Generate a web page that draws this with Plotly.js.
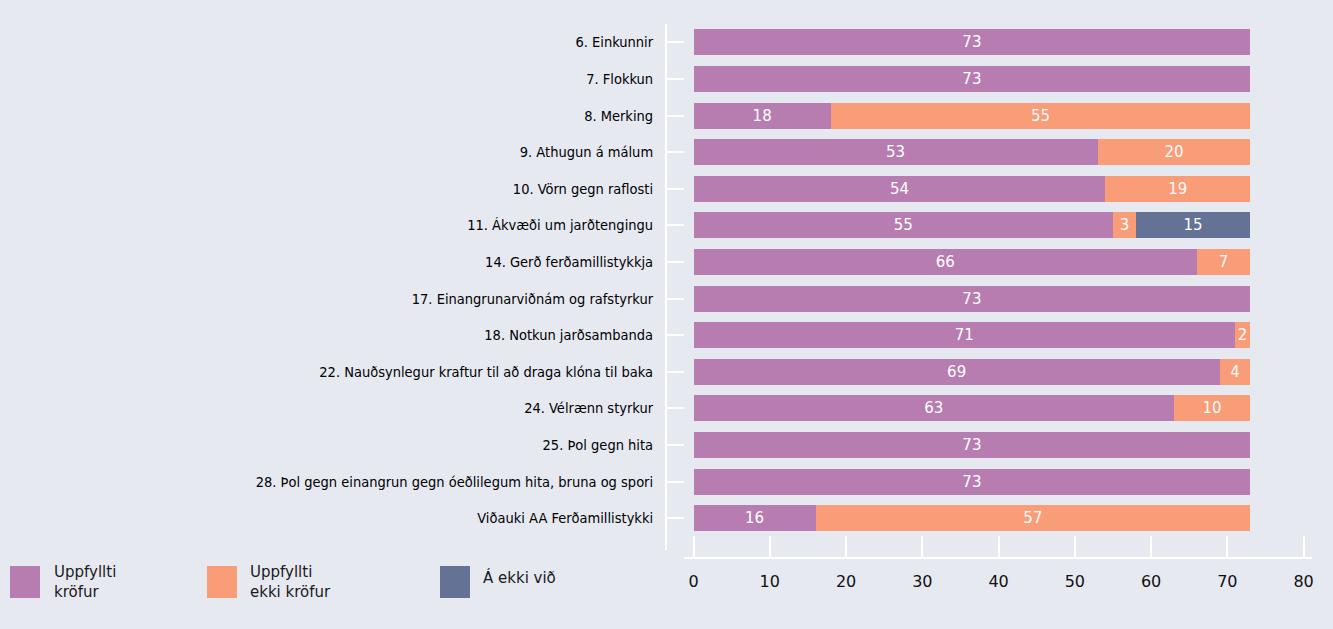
<!DOCTYPE html>
<html>
<head>
<meta charset="utf-8">
<script src="https://cdn.plot.ly/plotly-3.0.1.min.js"></script>
<style>html,body{margin:0;padding:0;background:#e6e9f0;}</style>
</head>
<body>
<div id="chart" style="width:1333px;height:629px;"></div>
<script>
const categories = [
  "6. Einkunnir",
  "7. Flokkun",
  "8. Merking",
  "9. Athugun á málum",
  "10. Vörn gegn raflosti",
  "11. Ákvæði um jarðtengingu",
  "14. Gerð ferðamillistykkja",
  "17. Einangrunarviðnám og rafstyrkur",
  "18. Notkun jarðsambanda",
  "22. Nauðsynlegur kraftur til að draga klóna til baka",
  "24. Vélrænn styrkur",
  "25. Þol gegn hita",
  "28. Þol gegn einangrun gegn óeðlilegum hita, bruna og spori",
  "Viðauki AA Ferðamillistykki"
];
const uppfyllti      = [73, 73, 18, 53, 54, 55, 66, 73, 71, 69, 63, 73, 73, 16];
const uppfylltiEkki  = [ 0,  0, 55, 20, 19,  3,  7,  0,  2,  4, 10,  0,  0, 57];
const aEkkiVid       = [ 0,  0,  0,  0,  0, 15,  0,  0,  0,  0,  0,  0,  0,  0];
const seriesNames  = ["Uppfyllti kröfur", "Uppfyllti ekki kröfur", "Á ekki við"];
const legendLabels = ["Uppfyllti<br>kröfur", "Uppfyllti<br>ekki kröfur", "Á ekki við"];
const colors = ["#b77db0", "#f99c78", "#647296"];
const xTicks = [0, 10, 20, 30, 40, 50, 60, 70, 80];

const seriesValues = [uppfyllti, uppfylltiEkki, aEkkiVid];
const traces = seriesValues.map((vals, i) => ({
  type: "bar",
  orientation: "h",
  name: seriesNames[i],
  y: categories,
  x: vals,
  text: vals.map(v => v ? String(v) : ""),
  textposition: "inside",
  insidetextanchor: "middle",
  textangle: 0,
  constraintext: "none",
  textfont: {family: "DejaVu Sans, sans-serif", size: 15, color: "#ffffff"},
  marker: {color: colors[i], line: {width: 0}},
  hoverinfo: "none",
  showlegend: false
}));

// layout geometry (pixels)
const W = 1333, H = 629;
const L = 666, R = 21, T = 24, B = 71;
const pw = W - L - R, ph = H - T - B;
const px2x = px => (px - L) / pw;
const py2y = py => (H - B - py) / ph;

const legendBoxes = [
  {x0: 10, x1: 40, tx: 52},
  {x0: 207, x1: 237, tx: 248},
  {x0: 440, x1: 470, tx: 481}
];
const shapes = legendBoxes.map((b, i) => ({
  type: "rect", xref: "paper", yref: "paper",
  x0: px2x(b.x0), x1: px2x(b.x1), y0: py2y(566), y1: py2y(598),
  fillcolor: colors[i], line: {width: 0}
}));
const annotations = legendBoxes.map((b, i) => ({
  xref: "paper", yref: "paper",
  x: px2x(b.tx), y: py2y(i === 2 ? 577 : 582),
  xanchor: "left", yanchor: "middle", align: "left",
  text: legendLabels[i], showarrow: false,
  font: {family: "DejaVu Sans, sans-serif", size: 15, color: "#1a1a1a"}
}));

const layout = {
  width: W, height: H,
  paper_bgcolor: "#e6e9f0",
  plot_bgcolor: "#e6e9f0",
  margin: {l: L, r: R, t: T, b: B, pad: 0},
  barmode: "stack",
  bargap: 0.29,
  showlegend: false,
  xaxis: {
    domain: [18 / pw, 1],
    range: [-1.25, 81.1],
    tickvals: xTicks,
    ticktext: xTicks.map(String),
    ticks: "inside", ticklen: 21, tickwidth: 2, tickcolor: "#ffffff",
    showline: true, linecolor: "#ffffff", linewidth: 2,
    showgrid: false, zeroline: false,
    anchor: "free", position: 0,
    ticklabelstandoff: 9,
    tickfont: {family: "DejaVu Sans, sans-serif", size: 16, color: "#111111"}
  },
  yaxis: {
    domain: [8 / ph, 1],
    type: "category",
    range: [13.87, -0.5],
    showline: true, linecolor: "#ffffff", linewidth: 2,
    ticks: "inside", ticklen: 17, tickwidth: 2, tickcolor: "#ffffff",
    showgrid: false, zeroline: false,
    anchor: "free", position: 0,
    ticklabelstandoff: 9,
    tickfont: {family: "DejaVu Sans Condensed, Liberation Sans Narrow, DejaVu Sans, sans-serif", size: 14.5, color: "#000000"}
  },
  shapes: shapes,
  annotations: annotations
};

Plotly.newPlot("chart", traces, layout, {displayModeBar: false, staticPlot: true});
</script>
</body>
</html>
